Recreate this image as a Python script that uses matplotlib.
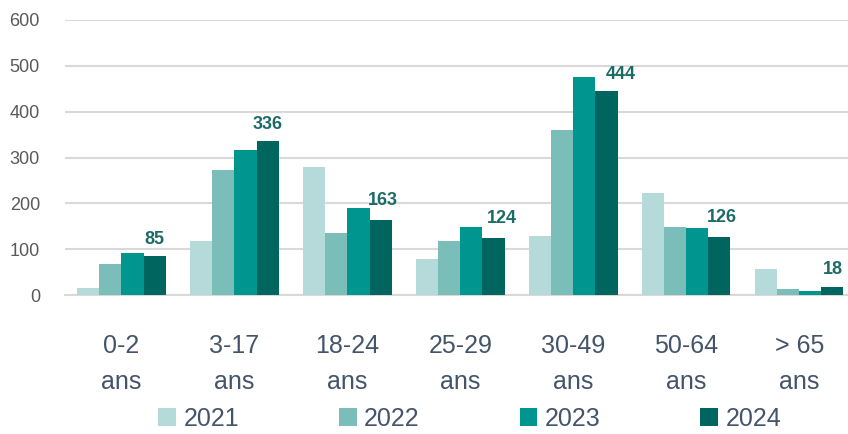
import matplotlib

matplotlib.use("Agg")
import matplotlib.pyplot as plt
import numpy as np

CATEGORIES = ["0-2\nans", "3-17\nans", "18-24\nans", "25-29\nans",
              "30-49\nans", "50-64\nans", "> 65\nans"]
YEARS = ["2021", "2022", "2023", "2024"]
V2021 = [15, 118, 279, 78, 129, 222, 56]
V2022 = [68, 273, 135, 118, 360, 148, 14]
V2023 = [92, 317, 190, 148, 476, 146, 9]
V2024 = [85, 336, 163, 124, 444, 126, 18]

COLORS = ["#b4dbd9", "#7bbdb9", "#009690", "#00645f"]
LABEL_COLOR = "#1d6b67"
TEXT_COLOR = "#44546a"

plt.rcParams["font.family"] = ["Liberation Sans", "DejaVu Sans"]


def main() -> None:
    series = [V2021, V2022, V2023, V2024]
    x = np.arange(len(CATEGORIES))
    width = 0.195

    fig = plt.figure(figsize=(8.48, 4.34), dpi=100)
    ax = fig.add_axes([65 / 848, 139 / 434, 1 - 65 / 848, 275 / 434])

    bars = []
    for i, (vals, year) in enumerate(zip(series, YEARS)):
        b = ax.bar(x + (i - 1.5) * width, vals, width, color=COLORS[i], label=year, zorder=3)
        bars.append(b)

    # data labels on the 2024 series only
    offsets = [(0, 6), (0, 6), (2, 8), (6, 8), (10, 6), (2, 8), (0, 6)]
    for rect, v, off in zip(bars[3], V2024, offsets):
        ax.annotate(str(v), (rect.get_x() + rect.get_width() / 2, v),
                    textcoords="offset points", xytext=off, ha="center", va="bottom",
                    fontsize=13, fontweight="bold", color=LABEL_COLOR)

    ax.set_ylim(0, 600)
    ax.set_xlim(-0.5, 6.43)
    ax.set_yticks(range(0, 601, 100))
    ax.yaxis.grid(True, color="#d9d9d9", lw=1.5, zorder=0)
    ax.set_axisbelow(True)
    for s in ["top", "right", "left"]:
        ax.spines[s].set_visible(False)
    ax.spines["bottom"].set_color("#d9d9d9")
    ax.spines["bottom"].set_linewidth(1.5)
    ax.tick_params(axis="y", length=0, labelsize=13, labelcolor="#595959", pad=18)
    ax.tick_params(axis="x", length=0, labelsize=18, labelcolor=TEXT_COLOR, pad=28)
    ax.set_xticks(x)
    ax.set_xticklabels(CATEGORIES, linespacing=1.65)

    leg = ax.legend(loc="center", bbox_to_anchor=(0.517, -0.45),
                    ncol=4, frameon=False, fontsize=18, handlelength=0.7, handleheight=0.7,
                    handletextpad=0.3, columnspacing=4.0)
    for t in leg.get_texts():
        t.set_color(TEXT_COLOR)

    fig.savefig("out.png", dpi=100)
    plt.close(fig)


if __name__ == "__main__":
    main()
